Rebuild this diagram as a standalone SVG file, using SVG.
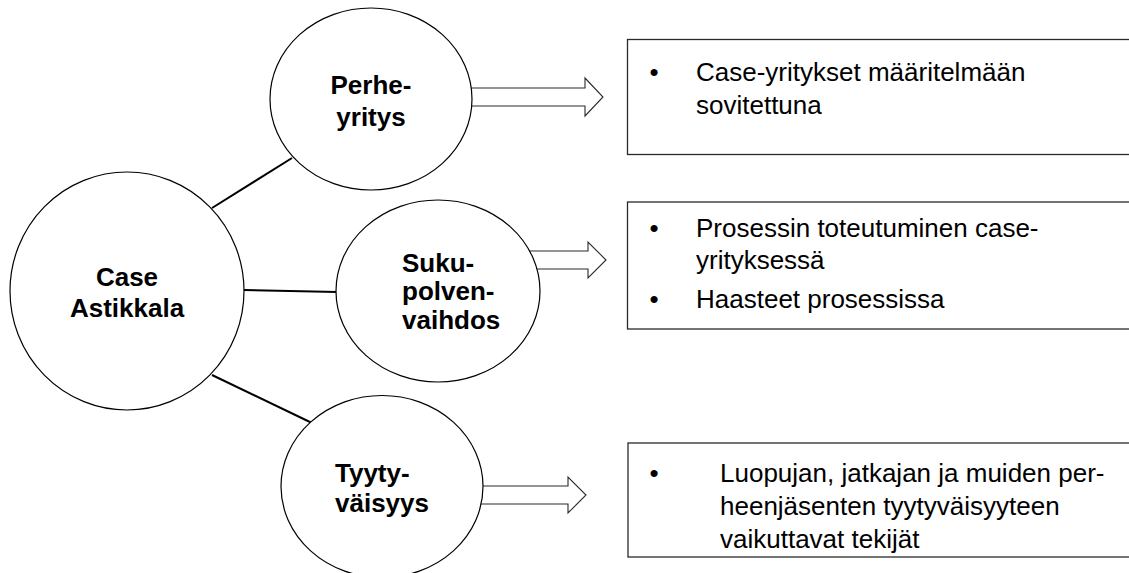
<svg xmlns="http://www.w3.org/2000/svg" width="1129" height="573" viewBox="0 0 1129 573">
<style>
.bg{fill:#ffffff}
.node{fill:#ffffff;stroke:#000000;stroke-width:1.2}
.box{fill:#ffffff;stroke:#2a2a2a;stroke-width:1.3}
.link{stroke:#000000;stroke-width:2;fill:none}
.barrow{fill:#ffffff;stroke:#2a2a2a;stroke-width:1.1;stroke-linejoin:miter}
.lbl{font-family:"Liberation Sans",Arial,sans-serif;font-size:26px;font-weight:bold;fill:#000000}
.txt{font-family:"Liberation Sans",Arial,sans-serif;font-size:26px;fill:#000000}
.c{text-anchor:middle}
</style>
<rect class="bg" x="0" y="0" width="1129" height="573"/>
<g id="connectors">
  <line class="link" x1="212" y1="208" x2="292" y2="158"/>
  <line class="link" x1="244" y1="290" x2="337" y2="292"/>
  <line class="link" x1="212" y1="375" x2="312" y2="423"/>
  <polygon class="barrow" points="460,88 585,88 585,78 603,97 585,116 585,106 460,106"/>
  <polygon class="barrow" points="520,251 588,251 588,242 606,260 588,278 588,269 520,269"/>
  <polygon class="barrow" points="470,486 568,486 568,477 586,495 568,513 568,504 470,504"/>
</g>
<g id="node-case">
  <ellipse class="node" cx="127" cy="291" rx="117" ry="119"/>
  <text class="lbl c" x="127" y="286">Case</text>
  <text class="lbl c" x="127" y="317">Astikkala</text>
</g>
<g id="node-perhe">
  <ellipse class="node" cx="371" cy="99" rx="101" ry="91"/>
  <text class="lbl c" x="371" y="94">Perhe-</text>
  <text class="lbl c" x="371" y="126">yritys</text>
</g>
<g id="node-suku">
  <ellipse class="node" cx="438" cy="291" rx="102" ry="91"/>
  <text class="lbl" x="402" y="272">Suku-</text>
  <text class="lbl" x="402" y="300">polven-</text>
  <text class="lbl" x="402" y="329">vaihdos</text>
</g>
<g id="node-tyyty">
  <ellipse class="node" cx="382" cy="486.5" rx="101" ry="91"/>
  <text class="lbl" x="335" y="482">Tyyty-</text>
  <text class="lbl" x="335" y="512">väisyys</text>
</g>
<g id="box-perhe">
  <rect class="box" x="627.5" y="39.5" width="510" height="115"/>
  <text class="txt c" x="654" y="81">•</text>
  <text class="txt" x="696" y="81">Case-yritykset määritelmään</text>
  <text class="txt" x="696" y="114">sovitettuna</text>
</g>
<g id="box-suku">
  <rect class="box" x="627.5" y="202" width="510" height="127"/>
  <text class="txt c" x="654" y="237">•</text>
  <text class="txt" x="696" y="237">Prosessin toteutuminen case-</text>
  <text class="txt" x="696" y="269">yrityksessä</text>
  <text class="txt c" x="654" y="308">•</text>
  <text class="txt" x="696" y="308">Haasteet prosessissa</text>
</g>
<g id="box-tyyty">
  <rect class="box" x="628" y="443" width="510" height="114"/>
  <text class="txt c" x="654" y="482">•</text>
  <text class="txt" x="720" y="482">Luopujan, jatkajan ja muiden per-</text>
  <text class="txt" x="720" y="515">heenjäsenten tyytyväisyyteen</text>
  <text class="txt" x="720" y="548">vaikuttavat tekijät</text>
</g>
</svg>
